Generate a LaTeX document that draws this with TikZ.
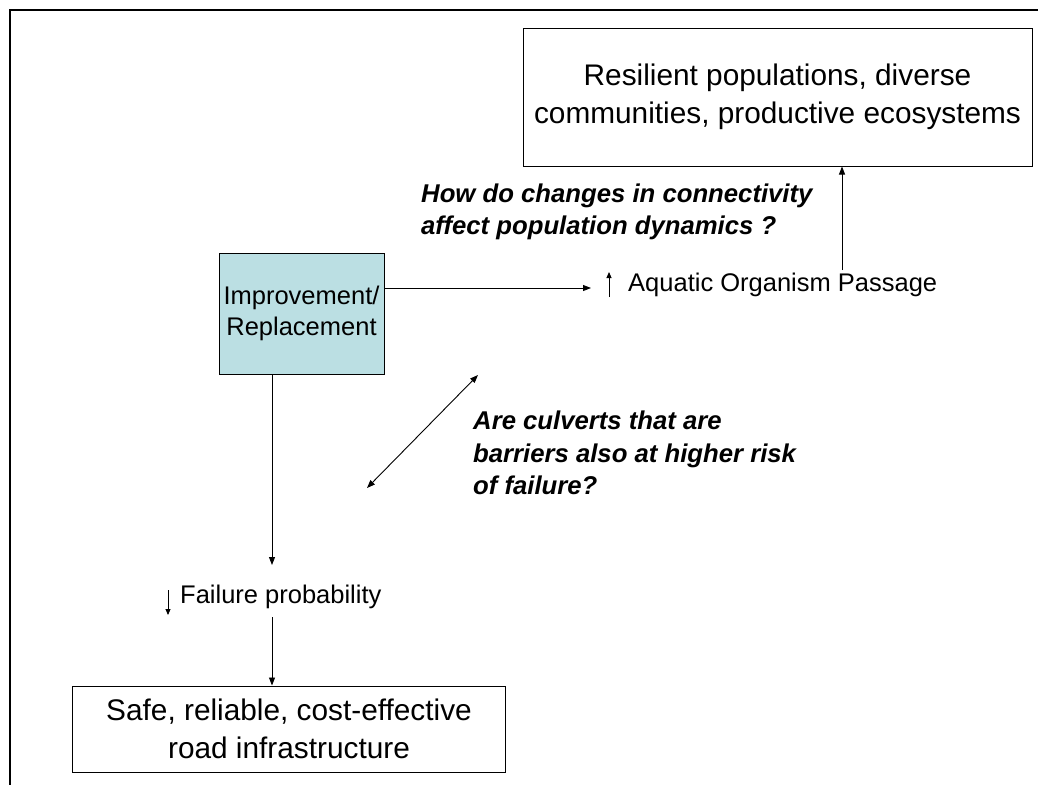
\documentclass[tikz,border=0pt]{standalone}
\usepackage{fontspec}
\setmainfont{Liberation Sans}
\usetikzlibrary{arrows.meta}
\definecolor{boxfill}{RGB}{187,223,227}
\begin{document}
\begin{tikzpicture}[x=1pt,y=-1pt,
  conn/.style={line width=0.9pt,-{Triangle[length=8pt,width=6pt]}},
  dconn/.style={line width=0.9pt,{Triangle[length=8pt,width=6pt]}-{Triangle[length=8pt,width=6pt]}},
  smallarr/.style={line width=0.9pt,-{Triangle[length=6pt,width=5pt]}},
  bigbox/.style={draw,line width=1pt,align=center,inner sep=0pt,font=\fontsize{29.8}{38}\selectfont},
  lab/.style={inner sep=0pt,align=left,font=\fontsize{25.5}{32}\selectfont},
  quest/.style={inner sep=0pt,align=left,font=\fontsize{25.7}{32.5}\selectfont\bfseries\itshape}]
\useasboundingbox (0,0) rectangle (1038,785);
\fill[white] (0,0) rectangle (1038,785);
\draw[line width=2.2pt] (1038,10) -- (10,10) -- (10,785);

\node[bigbox,minimum width=509pt,minimum height=138pt] (eco) at (777.5,97) {Resilient populations, diverse\\communities, productive ecosystems};
\node[bigbox,minimum width=433pt,minimum height=86pt] (road) at (289,729) {Safe, reliable, cost-effective\\road infrastructure};
\node[draw,line width=1pt,fill=boxfill,minimum width=165pt,minimum height=121pt,inner sep=0pt,align=center,font=\fontsize{25.5}{31}\selectfont] (impr) at (301.5,313.5) {Improvement/\\Replacement};

\node[quest,anchor=west] (q1) at (421,212) {How do changes in connectivity\\affect population dynamics ?};
\node[quest,anchor=west] (q2) at (473,453) {Are culverts that are\\barriers also at higher risk\\of failure?};
\node[lab,anchor=west] (aq) at (628,285) {Aquatic Organism Passage};
\node[lab,anchor=west] (fp) at (180,597) {Failure probability};

\coordinate (aqin) at (591,288);
\coordinate (aqout) at (842,270);
\coordinate (fpin) at (272,565);
\coordinate (fpout) at (272,617);
\coordinate (dA) at (478,375);
\coordinate (dB) at (367,488);

\draw[conn] (impr.east |- aqin) -- (aqin);
\draw[conn] (aqout) -- (aqout |- eco.south);
\draw[conn] (impr.south -| fpin) -- (fpin);
\draw[conn] (fpout) -- (fpout |- road.north);
\draw[dconn] (dA) -- (dB);
\draw[smallarr] (aq.west) ++(-19,12) -- ++(0,-25);
\draw[smallarr] (fp.west) ++(-12,-7) -- ++(0,25);
\end{tikzpicture}
\end{document}
